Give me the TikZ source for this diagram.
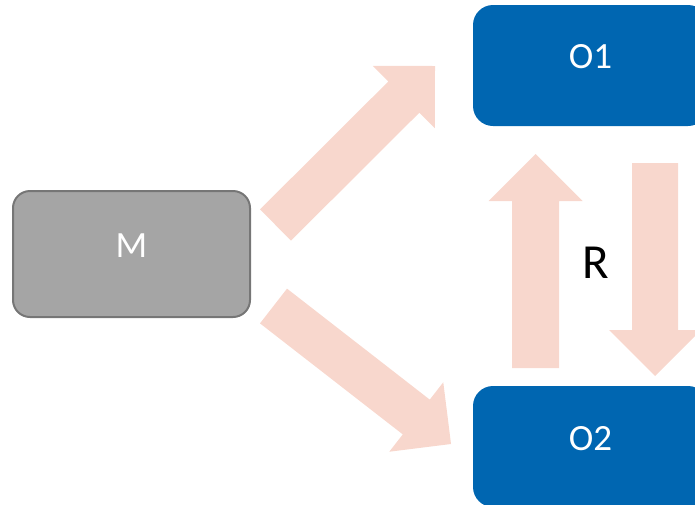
\documentclass[tikz,border=0pt]{standalone}
\usepackage{fontspec}
\setmainfont{Carlito}
\usetikzlibrary{calc}
\definecolor{gfill}{HTML}{A5A5A5}
\definecolor{gline}{HTML}{767676}
\definecolor{bfill}{HTML}{0066B1}
\definecolor{afill}{HTML}{F8D7CD}
\tikzset{
  boxM/.style={draw=gline, line width=2pt, fill=gfill, rounded corners=17pt},
  boxO/.style={fill=bfill, rounded corners=20pt},
  lbl/.style={text=white, font=\fontsize{37}{40}\selectfont, inner sep=0pt},
  rlbl/.style={text=black, font=\fontsize{49}{52}\selectfont, inner sep=0pt},
  blockarr/.style={fill=afill, draw=none},
}
% #1 tail, #2 tip, #3 half shaft width, #4 head length (= head half width)
\newcommand\blockarrow[4]{%
  \coordinate (#1-h) at ($(#2)!#4!(#1)$);
  \path[blockarr]
    ($(#1)!#3!90:(#2)$) -- ($(#1-h)!#3!90:(#2)$) -- ($(#1-h)!#4!90:(#2)$)
    -- (#2)
    -- ($(#1-h)!#4!-90:(#2)$) -- ($(#1-h)!#3!-90:(#2)$) -- ($(#1)!#3!-90:(#2)$) -- cycle;
}
\begin{document}
\begin{tikzpicture}[x=1pt,y=-1pt]
  \useasboundingbox (0,0) rectangle (695,504);
  \clip (0,0) rectangle (695,504);
  % boxes
  \path[boxM] (13,191) rectangle (250,317);
  \node[lbl] (M) at (131.5,246) {M};
  \path[boxO] (473,5) rectangle (708,126);
  \node[lbl] (O1) at (590.5,57) {O1};
  \path[boxO] (473,386) rectangle (708,507);
  \node[lbl] (O2) at (590.5,439) {O2};
  % arrows
  \coordinate (a1t) at (275.5,225);  \coordinate (a1h) at (435,66);
  \coordinate (a2t) at (273.5,306);  \coordinate (a2h) at (451,444);
  \coordinate (a3t) at (535.5,368);  \coordinate (a3h) at (535.5,154);
  \coordinate (a4t) at (655,163);    \coordinate (a4h) at (655,376);
  \blockarrow{a1t}{a1h}{22pt}{44pt}
  \blockarrow{a2t}{a2h}{22pt}{44pt}
  \blockarrow{a3t}{a3h}{23.5pt}{47pt}
  \blockarrow{a4t}{a4h}{23pt}{46pt}
  \node[rlbl] (R) at (596,263) {R};
\end{tikzpicture}
\end{document}
